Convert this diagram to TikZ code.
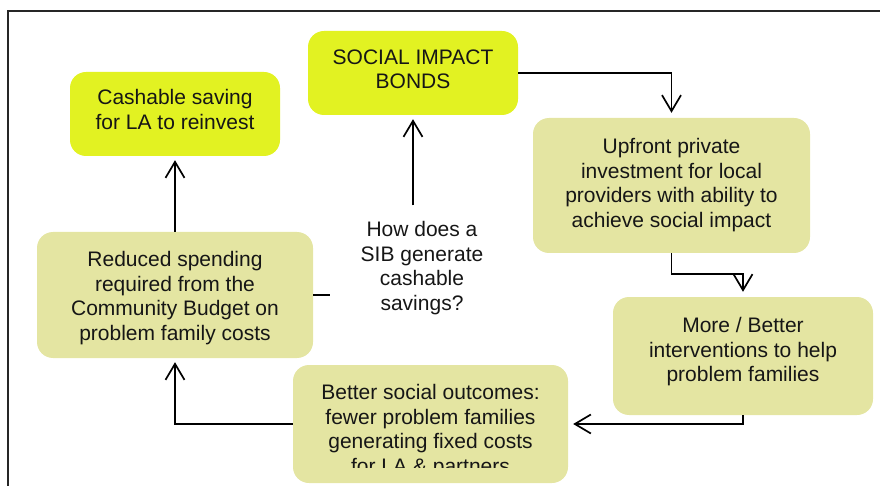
\documentclass[tikz,border=0pt]{standalone}
\usepackage{fontspec}
\setmainfont{Liberation Sans}
\usetikzlibrary{arrows.meta,calc}
\definecolor{lime}{RGB}{226,242,34}
\definecolor{olive}{RGB}{228,229,162}
\definecolor{ink}{RGB}{22,22,22}
\begin{document}
\begin{tikzpicture}[x=1pt,y=-1pt,
  box/.style={rectangle,rounded corners=16pt,inner sep=0pt},
  keybox/.style={box,fill=lime},
  stagebox/.style={box,fill=olive},
  words/.style={inner sep=0pt,align=center,text=ink,
    font=\fontsize{21}{24.5}\selectfont},
  link/.style={line width=1.7pt,black},
  arr/.style={link,-{Straight Barb[length=16pt,width=19pt,line width=1.7pt]}}]
\clip (0,0) rectangle (880,486);
% outer frame
\draw[line width=2pt,black!85] (8,500) -- (8,11) -- (900,11);

% boxes
\node[keybox,minimum width=210pt,minimum height=84pt] (sib) at (413,73) {};
\node[words] (sibt) at (413,69.5) {SOCIAL IMPACT\\BONDS};
\node[keybox,minimum width=210pt,minimum height=84pt] (cash) at (175,114) {};
\node[words] (casht) at (175,109.5) {Cashable saving\\for LA to reinvest};
\node[stagebox,minimum width=277pt,minimum height=135pt] (up) at (671.5,185.5) {};
\node[words] (upt) at (671.5,185) {Upfront private\\investment for local\\providers with ability to\\achieve social impact};
\node[stagebox,minimum width=260pt,minimum height=118pt] (more) at (743,356) {};
\node[words] (moret) at (743,352) {More / Better\\interventions to help\\problem families};
\node[stagebox,minimum width=275pt,minimum height=118pt] (out) at (430.5,424) {};
% the last line of this box is cut off at its text area
\begin{scope}
  \clip (290,360) rectangle (570,467);
  \node[words] (outt) at (430.5,431) {Better social outcomes:\\fewer problem families\\generating fixed costs\\for LA \& partners};
\end{scope}
\node[stagebox,minimum width=276pt,minimum height=126pt] (red) at (175,295) {};
\node[words] (redt) at (175,298) {Reduced spending\\required from the\\Community Budget on\\problem family costs};
\node[words] (q) at (422,268) {How does a\\SIB generate\\cashable\\savings?};

% cycle connectors
\coordinate (k1) at (743,274);
\draw[arr,shorten >=5pt] (sib.east) -| (up.north);
\draw[arr,shorten >=5pt] (up.south) |- (k1) -- (more.north);
\draw[arr,shorten >=5pt] (more.south) |- (out.east);
\draw[arr,shorten >=4pt] (out.west) -| (red.south);
\draw[arr,shorten >=4pt] (red.north) -- (cash.south);
\draw[arr,shorten <=16pt,shorten >=4pt] (q.north -| sib.south) -- (sib.south);
\draw[link] (red.east) -- ++(17,0);
\end{tikzpicture}
\end{document}
